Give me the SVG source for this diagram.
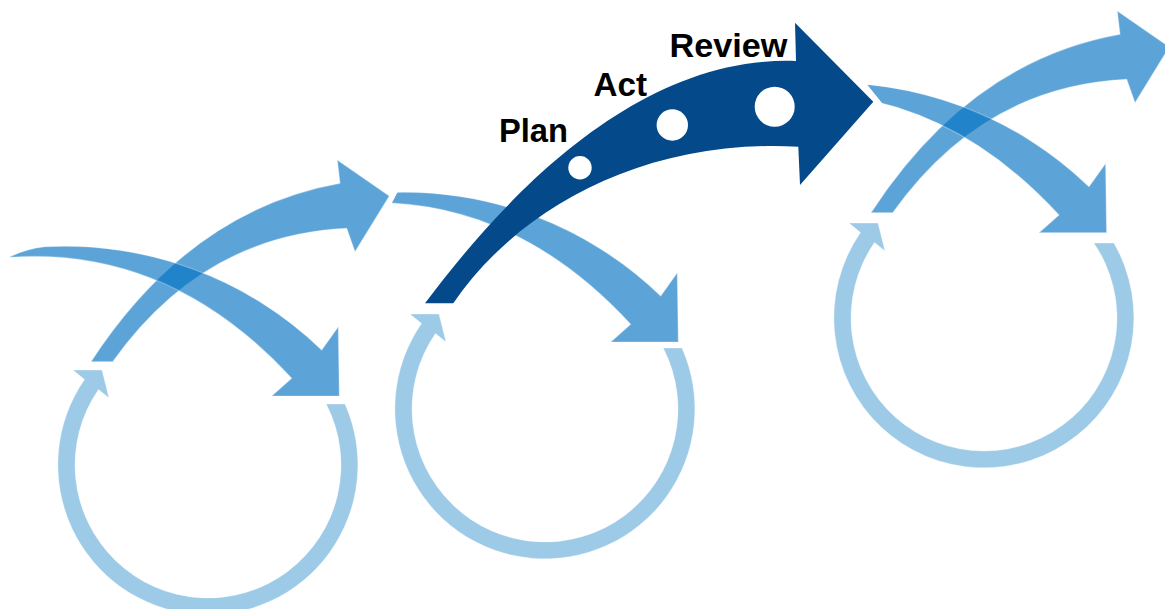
<svg xmlns="http://www.w3.org/2000/svg" xmlns:xlink="http://www.w3.org/1999/xlink" width="1165" height="609" viewBox="0 0 1165 609">
  <style>
    .ring { fill: #9DCAE7; stroke: #ffffff; stroke-opacity: 0.35; stroke-width: 1; }
    .arrow { fill: #0070C0; fill-opacity: 0.64; stroke: #ffffff; stroke-opacity: 0.3; stroke-width: 1.2; stroke-linejoin: miter; }
    .main { fill: #044A8A; }
    .dot { fill: #ffffff; }
    .label { font-family: "Liberation Sans", Arial, sans-serif; font-weight: bold; font-size: 34px; fill: #000000; }
  </style>
  <defs>
    <path id="ring60" d="M 137 -61 A 150 150 0 1 1 -123.5 -85.5 L -135 -95 L -106 -95 L -99 -67 L -109.5 -75.5 A 133 133 0 1 0 118.2 -61 Z"/>
    <path id="ring75" d="M 129.9 -75 A 150 150 0 1 1 -123.5 -85.5 L -135 -95 L -106 -95 L -99 -67 L -109.5 -75.5 A 133 133 0 1 0 109.8 -75 Z"/>
    <path id="upArrow" d="M 91 361.7 Q 190 210 340 183.3 L 337.3 160 L 389.3 196 L 355 251.7 L 346.7 228.3 Q 203 235 112.7 361.7 Z"/>
    <path id="downArrow" d="M 9.3 257.3 Q 25 249 45 246.7 A 370 370 0 0 1 321.7 350 L 338.3 326.7 L 339.3 396 L 271.7 396 L 291.7 378.3 Q 170 246 9.3 257.3 Z"/>
    <clipPath id="tailClip2" clipPathUnits="userSpaceOnUse">
      <polygon points="72.4,220 420,220 420,420 -33,420"/>
    </clipPath>
    <clipPath id="tailClip3" clipPathUnits="userSpaceOnUse">
      <polygon points="85.5,230 420,230 420,420 141.9,420 141.9,300"/>
    </clipPath>
  </defs>

  <g id="cycle-1">
    <use xlink:href="#ring60" class="ring" transform="translate(208,465)"/>
    <use xlink:href="#upArrow" class="arrow"/>
    <use xlink:href="#downArrow" class="arrow"/>
  </g>

  <g id="cycle-2">
    <use xlink:href="#ring60" class="ring" transform="translate(545,409)"/>
    <g transform="translate(339,-54)">
      <use xlink:href="#downArrow" class="arrow" clip-path="url(#tailClip2)"/>
    </g>
  </g>

  <g id="cycle-3">
    <use xlink:href="#ring75" class="ring" transform="translate(984,318)"/>
    <g transform="translate(780,-149)">
      <use xlink:href="#upArrow" class="arrow"/>
    </g>
    <g transform="translate(767.3,-163.3)">
      <use xlink:href="#downArrow" class="arrow" clip-path="url(#tailClip3)"/>
    </g>
  </g>

  <g id="main-arrow">
    <path class="main" d="M 425 303.3 C 495 210 630 55 796 61 L 795 22.7 L 873.3 101.7 L 800 185 L 798.3 146.7 C 640 138 515 212 453.3 303.3 Z"/>
    <circle class="dot" cx="580" cy="167.7" r="11.7"/>
    <circle class="dot" cx="672.3" cy="125" r="15.7"/>
    <circle class="dot" cx="774.7" cy="106.7" r="20"/>
  </g>

  <g id="labels">
    <text class="label" x="499" y="141.7" textLength="69" lengthAdjust="spacingAndGlyphs">Plan</text>
    <text class="label" x="593.5" y="96" textLength="53.5" lengthAdjust="spacingAndGlyphs">Act</text>
    <text class="label" x="669.5" y="57.3" textLength="118" lengthAdjust="spacingAndGlyphs">Review</text>
  </g>
</svg>
